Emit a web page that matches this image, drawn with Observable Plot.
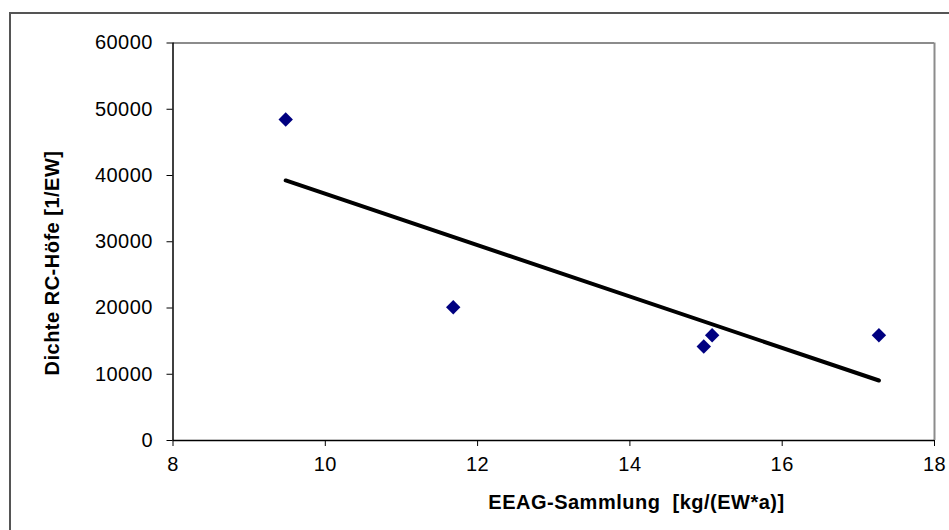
<!DOCTYPE html>
<html><head><meta charset="utf-8">
<script src="https://cdn.jsdelivr.net/npm/d3@7"></script>
<script src="https://cdn.jsdelivr.net/npm/@observablehq/plot@0.6"></script>
<style>
body{margin:0;background:#fff;}
#wrap{position:relative;width:949px;height:530px;overflow:hidden;background:#fff;}
#frame{position:absolute;left:9px;top:12px;width:1000px;height:600px;border:2px solid #555;}
#chart{position:absolute;left:0;top:0;}
.title{position:absolute;font-family:"Liberation Sans",Arial,sans-serif;font-weight:bold;font-size:20px;letter-spacing:0.5px;white-space:pre;color:#000;line-height:1;}
#ytitle{left:52px;top:262.5px;transform:translate(-50%,-50%) rotate(-90deg);}
#xtitle{left:636.5px;top:502px;transform:translate(-50%,-50%);}
svg text{letter-spacing:0.5px;}
</style></head><body>
<div id="wrap"><div id="frame"></div><div id="chart"></div>
<div class="title" id="ytitle">Dichte RC-Höfe [1/EW]</div>
<div class="title" id="xtitle">EEAG-Sammlung  [kg/(EW*a)]</div>
</div>
<script>
const sammlung = [9.48, 11.68, 14.97, 15.08, 17.27];
const dichte = [48450, 20100, 14200, 15900, 15900];
const xTicks = [8, 10, 12, 14, 16, 18];
const yTicks = [0, 10000, 20000, 30000, 40000, 50000, 60000];
const xTitle = "EEAG-Sammlung  [kg/(EW*a)]";
const yTitle = "Dichte RC-Höfe [1/EW]";

const data = sammlung.map((x, i) => ({x, y: dichte[i]}));

const plot = Plot.plot({
  width: 949,
  height: 530,
  marginLeft: 172.5,
  marginRight: 15,
  marginTop: 42.5,
  marginBottom: 90,
  style: {fontFamily: "'Liberation Sans', Arial, sans-serif", fontSize: "20px", color: "#000", background: "transparent", overflow: "visible"},
  x: {domain: [8, 18], ticks: xTicks, tickSize: 6, tickPadding: 10, label: null, tickFormat: d => String(d)},
  y: {domain: [0, 60000], ticks: yTicks, tickSize: 6, tickPadding: 14, label: null, tickFormat: d => String(d)},
  marks: [
    Plot.ruleY([60000], {stroke: "#8c8c8c", strokeWidth: 2}),
    Plot.ruleX([18], {stroke: "#8c8c8c", strokeWidth: 2}),
    Plot.ruleX([8], {stroke: "#000", strokeWidth: 1.5}),
    Plot.ruleY([0], {stroke: "#000", strokeWidth: 1.5}),
    Plot.linearRegressionY(data, {x: "x", y: "y", stroke: "#000", strokeWidth: 4, ci: 0, strokeLinecap: "round"}),
    Plot.dot(data, {x: "x", y: "y", symbol: "diamond2", r: 6.5, fill: "#000080", stroke: "none"})
  ]
});
document.getElementById("chart").appendChild(plot);
document.getElementById("xtitle").textContent = xTitle;
document.getElementById("ytitle").textContent = yTitle;
</script>
</body></html>
